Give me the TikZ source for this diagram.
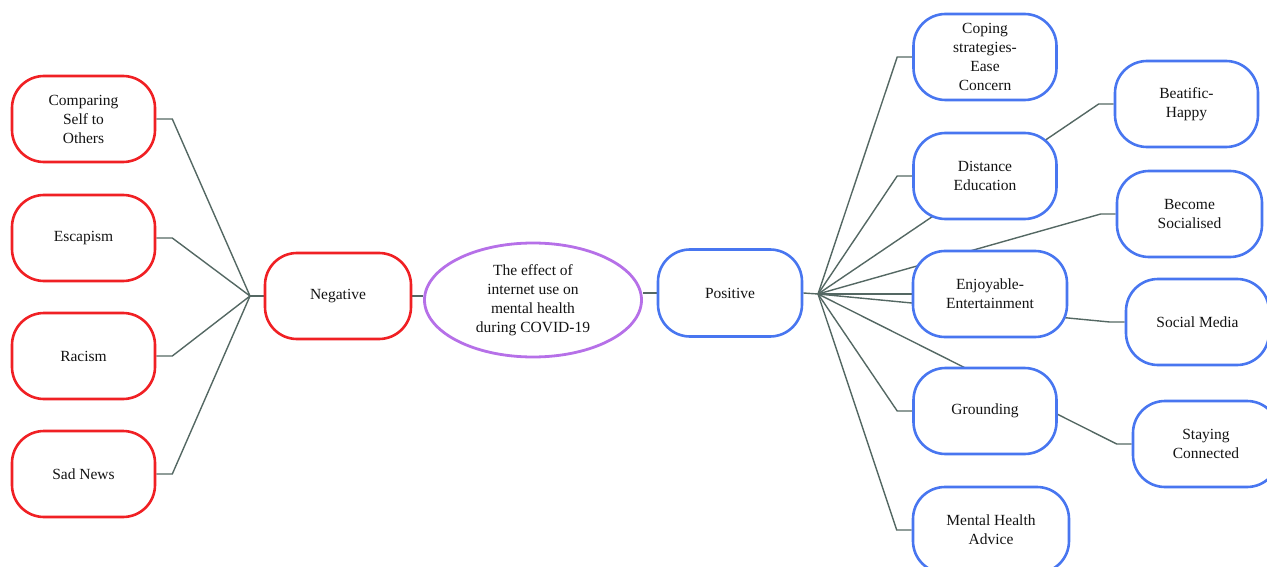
\documentclass[tikz,border=0pt]{standalone}
\usepackage{fontspec}
\setmainfont{Liberation Serif}
\usepackage{tikz}
\usetikzlibrary{positioning, shapes.geometric, backgrounds}
\definecolor{negred}{RGB}{240,32,36}
\definecolor{posblue}{RGB}{72,118,240}
\definecolor{rootpurple}{RGB}{182,112,232}
\definecolor{linkgray}{RGB}{84,104,99}
\tikzset{
  negbox/.style={rectangle, rounded corners=32pt, draw=negred, line width=2.6pt, fill=white, minimum width=143pt, minimum height=86pt, align=center, text=black!92},
  posbox/.style={rectangle, rounded corners=32pt, draw=posblue, line width=2.6pt, fill=white, minimum width=143pt, minimum height=86pt, align=center, text=black!92},
  rootell/.style={ellipse, draw=rootpurple, line width=2.8pt, fill=white, minimum width=217pt, minimum height=114pt, inner sep=0pt, align=center, text=black!92},
  link/.style={draw=linkgray, line width=1.4pt},
}

\begin{document}
\begin{tikzpicture}[x=1pt, y=-1pt, font=\fontsize{15.5}{19}\selectfont]
  \useasboundingbox (0,0) rectangle (1267,567);

  \node[rootell] (root) at (533,300) {The effect of\\internet use on\\mental health\\during COVID-19};
  \node[negbox, minimum width=146pt] (neg) at (338,296) {Negative};
  \node[posbox, minimum width=144pt, minimum height=87pt] (pos) at (730,293) {Positive};

  \node[negbox] (cmp) at (83.5,119) {Comparing\\Self to\\Others};
  \node[negbox] (esc) at (83.5,238) {Escapism};
  \node[negbox] (rac) at (83.5,356) {Racism};
  \node[negbox] (sad) at (83.5,474) {Sad News};

  \node[posbox] (cope) at (985,57) {Coping\\strategies-\\Ease\\Concern};
  \node[posbox] (dist) at (985,176) {Distance\\Education};
  \node[posbox, minimum width=154pt] (enjoy) at (990,294) {Enjoyable-\\Entertainment};
  \node[posbox] (ground) at (985,411) {Grounding};
  \node[posbox, minimum width=156pt] (advice) at (991,530) {Mental Health\\Advice};

  \node[posbox] (happy) at (1186.5,104) {Beatific-\\Happy};
  \node[posbox, minimum width=145pt] (social) at (1189.5,214) {Become\\Socialised};
  \node[posbox] (media) at (1197.5,322) {Social Media};
  \node[posbox, minimum width=146pt] (connect) at (1206,444) {Staying\\Connected};

  \coordinate (nj) at (250,296);
  \coordinate (pj) at (818,294);

  \begin{scope}[on background layer]
    \draw[link] (neg.east) -- (neg.east -| root.west);
    \draw[link] (pos.west) -- (pos.west -| root.east);
    \draw[link] (neg.west) -- (nj);
    \draw[link] (pos.east) -- (pj);

    \draw[link] (nj) -- ([xshift=16pt]cmp.east) -- (cmp.east);
    \draw[link] (nj) -- ([xshift=16pt]esc.east) -- (esc.east);
    \draw[link] (nj) -- ([xshift=16pt]rac.east) -- (rac.east);
    \draw[link] (nj) -- ([xshift=16pt]sad.east) -- (sad.east);

    \draw[link] (pj) -- ([xshift=-15pt]cope.west) -- (cope.west);
    \draw[link] (pj) -- ([xshift=-15pt]dist.west) -- (dist.west);
    \draw[link] (pj) -- (enjoy.west);
    \draw[link] (pj) -- ([xshift=-15pt]ground.west) -- (ground.west);
    \draw[link] (pj) -- ([xshift=-15pt]advice.west) -- (advice.west);

    \draw[link] (pj) -- ([xshift=-15pt]happy.west) -- (happy.west);
    \draw[link] (pj) -- ([xshift=-15pt]social.west) -- (social.west);
    \draw[link] (pj) -- ([xshift=-15pt]media.west) -- (media.west);
    \draw[link] (pj) -- ([xshift=-15pt]connect.west) -- (connect.west);
  \end{scope}
\end{tikzpicture}
\end{document}
